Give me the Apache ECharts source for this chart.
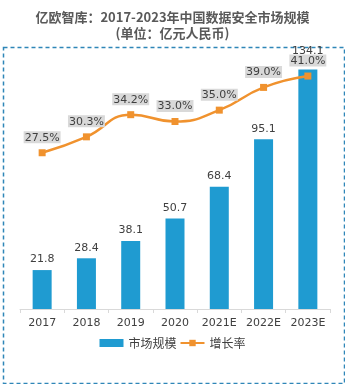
<!DOCTYPE html>
<html><head><meta charset="utf-8">
<script src="https://cdn.jsdelivr.net/npm/echarts@6/dist/echarts.min.js"></script>
<style>html,body{margin:0;padding:0;background:#fff}#c{width:345px;height:384px}</style>
</head><body><div id="c"></div>
<script>
const categories = ['2017','2018','2019','2020','2021E','2022E','2023E'];
const marketSize = [21.8, 28.4, 38.1, 50.7, 68.4, 95.1, 134.1];
const growthRate = [27.5, 30.3, 34.2, 33.0, 35.0, 39.0, 41.0];

const chart = echarts.init(document.getElementById('c'));
const font = '"DejaVu Sans", Verdana, "Noto Sans CJK SC", sans-serif';
chart.setOption({
  animation: false,
  backgroundColor: '#fff',
  title: {
    text: '亿欧智库：2017-2023年中国数据安全市场规模\n(单位：亿元人民币)',
    left: 'center', top: 4,
    textStyle: { fontSize: 13, fontWeight: 'bold', color: '#595959', lineHeight: 16,
      fontFamily: '"Noto Sans CJK SC", sans-serif' }
  },
  graphic: [{
    type: 'rect', left: 1, top: 45, silent: true,
    shape: { width: 341, height: 336 },
    style: { fill: 'none', stroke: '#2f86b8', lineWidth: 1.5, lineDash: [4, 3] }
  }],
  legend: {
    bottom: 30, left: 'center', itemGap: 3, itemWidth: 24, itemHeight: 8,
    textStyle: { fontSize: 12, color: '#404040', fontFamily: '"Noto Sans CJK SC", sans-serif' },
    data: [{ name: '市场规模', icon: 'rect' }, { name: '增长率' }]
  },
  grid: { left: 20, right: 15, top: 59, bottom: 75 },
  xAxis: {
    type: 'category', data: categories,
    axisLine: { lineStyle: { color: '#d9d9d9' } },
    axisTick: { show: true, length: 4, lineStyle: { color: '#d9d9d9' } },
    axisLabel: { interval: 0, color: '#404040', fontSize: 11, fontFamily: font, margin: 9 }
  },
  yAxis: [
    { type: 'value', min: 0, max: 140, show: false, splitLine: { show: false } },
    { type: 'value', min: 0, max: 44, show: false, splitLine: { show: false } }
  ],
  series: [
    {
      name: '市场规模', type: 'bar', barWidth: 19,
      data: marketSize.map((v, i) => i === marketSize.length - 1 ? { value: v, label: { distance: 13 } } : v),
      itemStyle: { color: '#1f9bd1' },
      label: { show: true, position: 'top', distance: 5, color: '#404040', fontSize: 11, fontFamily: font }
    },
    {
      name: '增长率', type: 'line', yAxisIndex: 1, data: growthRate, smooth: true,
      symbol: 'rect', symbolSize: 7, z: 3,
      lineStyle: { color: '#f0922e', width: 2.5 },
      itemStyle: { color: '#f0922e' },
      label: { show: true, position: 'top', distance: 6, color: '#404040', fontSize: 11, fontFamily: font,
        backgroundColor: '#d9d9d9', padding: [1, 1, 0, 1],
        formatter: p => p.value.toFixed(1) + '%' }
    }
  ]
});
</script></body></html>
